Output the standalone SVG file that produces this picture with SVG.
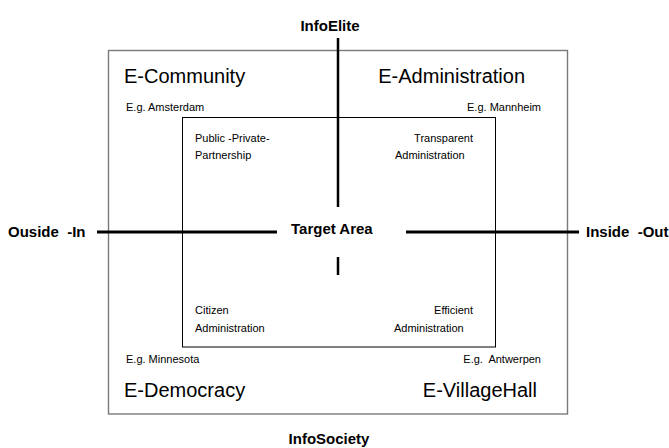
<svg xmlns="http://www.w3.org/2000/svg" width="669" height="448" viewBox="0 0 669 448">
  <style>
    text { font-family: "Liberation Sans", Arial, sans-serif; fill: #000; }
    .axis { font-size: 15px; font-weight: bold; }
    .big { font-size: 20px; }
    .eg { font-size: 11px; }
    .inner { font-size: 11px; }
    .end { text-anchor: end; }
    .mid { text-anchor: middle; }
    .outer-frame { fill: none; stroke: #7a7a7a; stroke-width: 1.4; }
    .inner-frame { fill: none; stroke: #000; stroke-width: 1; }
    .axis-line { stroke: #000; stroke-width: 3; fill: none; }
    .axis-vline { stroke: #000; stroke-width: 2.5; fill: none; }
  </style>
  <rect width="669" height="448" fill="#fff"/>

  <!-- frames -->
  <g id="frames">
    <rect class="outer-frame" x="108.5" y="50.5" width="459" height="363.5"/>
    <rect class="inner-frame" x="182.5" y="117.5" width="313" height="229.5"/>
  </g>

  <!-- axes -->
  <g id="connectors">
    <line class="axis-vline" x1="338" y1="38" x2="338" y2="207"/>
    <line class="axis-vline" x1="338" y1="257" x2="338" y2="275"/>
    <line class="axis-line" x1="97" y1="232" x2="277" y2="232"/>
    <line class="axis-line" x1="406" y1="232" x2="579" y2="232"/>
  </g>

  <!-- axis labels -->
  <g id="info-elite"><text class="axis mid" x="330" y="31">InfoElite</text></g>
  <g id="info-society"><text class="axis mid" x="329" y="444">InfoSociety</text></g>
  <g id="outside-in"><text class="axis" x="8" y="237" xml:space="preserve">Ouside  -In</text></g>
  <g id="inside-out"><text class="axis" x="586" y="237" xml:space="preserve">Inside  -Out</text></g>
  <g id="target-area"><text class="axis" x="291" y="234">Target Area</text></g>

  <!-- quadrants -->
  <g id="e-community">
    <text class="big" x="124" y="83">E-Community</text>
    <text class="eg" x="126" y="111">E.g. Amsterdam</text>
    <text class="inner" x="195" y="142">Public -Private-</text>
    <text class="inner" x="195" y="159">Partnership</text>
  </g>
  <g id="e-administration">
    <text class="big end" x="525" y="83">E-Administration</text>
    <text class="eg end" x="541" y="111">E.g. Mannheim</text>
    <text class="inner end" x="473" y="142">Transparent</text>
    <text class="inner" x="395" y="159">Administration</text>
  </g>
  <g id="e-democracy">
    <text class="inner" x="195" y="314">Citizen</text>
    <text class="inner" x="195" y="331.5">Administration</text>
    <text class="eg" x="126" y="363">E.g. Minnesota</text>
    <text class="big" x="124" y="397">E-Democracy</text>
  </g>
  <g id="e-villagehall">
    <text class="inner end" x="473" y="314">Efficient</text>
    <text class="inner" x="394" y="331.5">Administration</text>
    <text class="eg end" x="541" y="363" xml:space="preserve">E.g.  Antwerpen</text>
    <text class="big end" x="537" y="397">E-VillageHall</text>
  </g>
</svg>
